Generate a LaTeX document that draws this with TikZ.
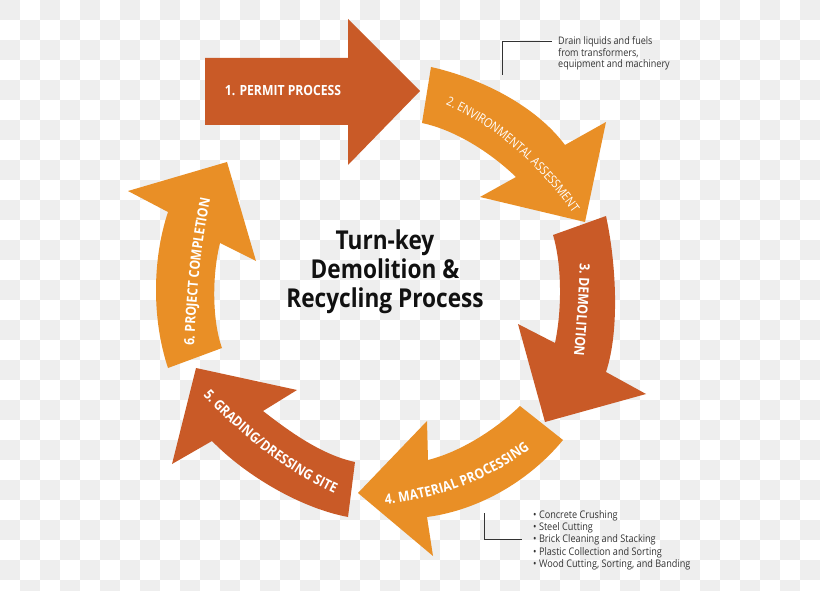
\documentclass[tikz,border=0pt]{standalone}
\usepackage{fontspec}
\usetikzlibrary{decorations.text}
\newfontfamily\osans[FakeStretch=0.87]{Open Sans}
\definecolor{darkor}{HTML}{C95A27}
\definecolor{lightor}{HTML}{E98F26}
\definecolor{checkg}{HTML}{EEEEEE}
\definecolor{linegray}{HTML}{333333}
\definecolor{titleblack}{HTML}{111111}
\begin{document}
\begin{tikzpicture}[x=1pt,y=-1pt,
  darkarrow/.style={fill=darkor,draw=none},
  lightarrow/.style={fill=lightor,draw=none},
  arrowlabel/.style={text=white,inner sep=0pt,font=\osans\bfseries\fontsize{14}{16}\selectfont},
  curvelabel/.style={decorate,decoration={text along path,text align=center,text color=white,raise=-5pt,
      text={|\osans\bfseries\fontsize{14}{16}\selectfont|#1}}},
  curvelabelreg/.style={decorate,decoration={text along path,text align=center,text color=white,raise=-4.5pt,
      text={|\osans\fontsize{12.5}{15}\selectfont|#1}}},
  titletext/.style={align=center,text=titleblack,inner sep=0pt,font=\osans\bfseries\fontsize{26}{29}\selectfont},
  notetext/.style={align=left,anchor=west,text=linegray,inner sep=0pt},
  callout/.style={draw=linegray,line width=0.8pt}]
\useasboundingbox (0,0) rectangle (820,591);
% checkerboard background
\fill[white] (0,0) rectangle (820,591);
\begin{scope}
\clip (0,0) rectangle (820,591);
\foreach \i in {0,2,...,40}{
  \foreach \j in {0,2,...,28}{
    \fill[checkg] (\i*20,\j*20) rectangle ++(20,20);
    \fill[checkg] (\i*20+20,\j*20+20) rectangle ++(20,20);
  }
}
\end{scope}

% Arrow 1
\fill[darkarrow] (205,58) -- (348,58) -- (348,19) -- (420,91) -- (348,165) -- (348,125) -- (205,125) -- cycle;
\node[arrowlabel] (l1) at (283,91) {1. PERMIT PROCESS};

% Arrow 2
\fill[lightarrow] (431,67) .. controls (480,78) and (535,105) .. (565,145) -- (606,122) -- (585,222) -- (480,197)
  -- (516,177) .. controls (490,152) and (455,130) .. (422,123) -- cycle;
\path[curvelabelreg={2. ENVIRONMENTAL ASSESSMENT}] (405,88) .. controls (470,100) and (545,150) .. (600,248);

% Arrow 3
\fill[darkarrow] (553,235) -- (606,216) .. controls (616,262) and (620,330) .. (606,372) -- (646,394) -- (545,422)
  -- (518,324) -- (555,343) .. controls (562,310) and (562,265) .. (553,235) -- cycle;
\path[curvelabel={3. DEMOLITION}] (586,225) .. controls (585,280) and (582,330) .. (575,395);

% Arrow 4
\fill[lightarrow] (520,406) -- (563,440) .. controls (530,480) and (480,510) .. (427,517) -- (433,556) -- (358,493)
  -- (427,421) -- (428,460) .. controls (460,452) and (495,430) .. (520,406) -- cycle;
\path[curvelabel={4. MATERIAL PROCESSING}] (340,500) .. controls (420,505) and (505,475) .. (560,415);

% Arrow 5
\fill[darkarrow] (196,368) -- (297,390) -- (263,411) .. controls (290,432) and (322,455) .. (355,462) -- (348,517)
  .. controls (300,508) and (245,475) .. (212,441) -- (172,464) -- cycle;
\path[curvelabel={5. GRADING/DRESSING SITE}] (180,360) .. controls (230,425) and (300,480) .. (375,505);

% Arrow 6
\fill[lightarrow] (227,162) -- (256,261) -- (220,243) .. controls (212,275) and (212,320) .. (222,348) -- (168,368)
  .. controls (152,320) and (152,260) .. (168,212) -- (128,191) -- cycle;
\path[curvelabel={6. PROJECT COMPLETION}] (188,385) .. controls (190,300) and (195,230) .. (215,160);

% Title
\node[titletext] (title) at (385,272) {Turn-key\\Demolition \&\\Recycling Process};

% Callout: drain
\node[notetext,font=\osans\fontsize{10.4}{11.6}\selectfont] (drain) at (558,53.5)
  {Drain liquids and fuels\\from transformers,\\equipment and machinery};
\coordinate (d1) at (502,75);
\coordinate (d2) at (502,41);
\coordinate (d3) at (552,41);
\draw[callout] (d1) -- (d2) -- (d3);

% Callout: material processing
\node[notetext,font=\osans\fontsize{10.5}{12.3}\selectfont] (bullets) at (533,540)
  {\textbullet\ Concrete Crushing\\\textbullet\ Steel Cutting\\\textbullet\ Brick Cleaning and Stacking\\\textbullet\ Plastic Collection and Sorting\\\textbullet\ Wood Cutting, Sorting, and Banding};
\coordinate (b1) at (484,513);
\coordinate (b2) at (484,539);
\coordinate (b3) at (522,539);
\draw[callout] (b1) -- (b2) -- (b3);
\end{tikzpicture}
\end{document}
